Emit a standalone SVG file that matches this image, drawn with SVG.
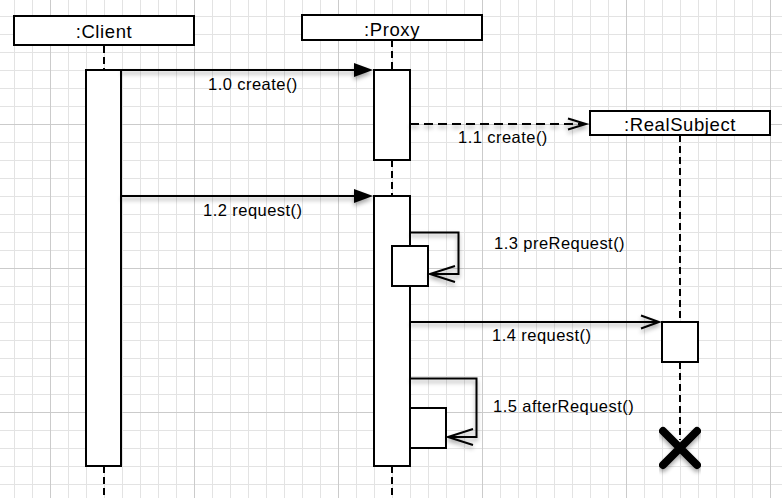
<svg xmlns="http://www.w3.org/2000/svg" width="782" height="498" viewBox="0 0 782 498">
<defs>
<pattern id="minor" width="18" height="18" patternUnits="userSpaceOnUse" x="14" y="16">
<path d="M0.5 0V18M0 0.5H18" stroke="#e3e3e3" stroke-width="1" fill="none"/>
</pattern>
<pattern id="major" width="144" height="144" patternUnits="userSpaceOnUse" x="50" y="124">
<path d="M0.5 0V144M0 0.5H144" stroke="#cbcbcb" stroke-width="1" fill="none"/>
</pattern>
<filter id="sh" x="-10%" y="-50%" width="120%" height="200%">
<feDropShadow dx="0" dy="3" stdDeviation="2" flood-color="#000" flood-opacity="0.35"/>
</filter>
<style>
.box{fill:#fff;stroke:#000;stroke-width:2}
.life{stroke:#000;stroke-width:2;stroke-dasharray:7 4;fill:none}
.msg{stroke:#000;stroke-width:2;fill:none}
.dash{stroke-dasharray:9 5}
.head{fill:none;stroke:#000;stroke-width:2}
.title{font-family:"Liberation Sans",Arial,sans-serif;font-size:18.5px;letter-spacing:0.6px;text-anchor:middle;fill:#000}
.lbl{font-family:"Liberation Sans",Arial,sans-serif;font-size:16.5px;letter-spacing:0.45px;fill:#000}
</style>
</defs>
<rect width="782" height="498" fill="#fff"/>
<rect width="782" height="498" fill="url(#minor)"/>
<rect width="782" height="498" fill="url(#major)"/>

<g id="client">
<line class="life" x1="104" y1="46" x2="104" y2="70"/>
<line class="life" x1="104" y1="466" x2="104" y2="498"/>
<rect class="box" x="14" y="16" width="180" height="29"/>
<text class="title" x="104" y="38">:Client</text>
<rect class="box" x="86" y="70" width="35" height="396"/>
</g>

<g id="proxy">
<line class="life" x1="392" y1="40" x2="392" y2="70"/>
<line class="life" x1="392" y1="160" x2="392" y2="196"/>
<line class="life" x1="392" y1="466" x2="392" y2="498"/>
<rect class="box" x="302" y="15" width="180" height="25"/>
<text class="title" x="392" y="35.5">:Proxy</text>
<rect class="box" x="374" y="70" width="36" height="90"/>
<rect class="box" x="374" y="196" width="36" height="270"/>
<rect class="box" x="392" y="246" width="36" height="40"/>
<rect class="box" x="410" y="408" width="36" height="40"/>
</g>

<g id="realSubject">
<line class="life" x1="680" y1="135" x2="680" y2="322"/>
<line class="life" x1="680" y1="362" x2="680" y2="440"/>
<rect class="box" x="590" y="111" width="180" height="24"/>
<text class="title" x="680" y="130.5">:RealSubject</text>
<rect class="box" x="662" y="322" width="36" height="40"/>
<g filter="url(#sh)">
<path d="M663 431L697 465M697 431L663 465" stroke="#000" stroke-width="8" stroke-linecap="round" fill="none"/>
</g>
</g>

<g id="connectors" filter="url(#sh)">
<line class="msg" x1="121" y1="70" x2="358" y2="70"/>
<polygon points="373,70 354,63 354,77" fill="#000"/>
<line class="msg dash" x1="410" y1="124" x2="584" y2="124"/>
<polyline class="head" points="568,118.5 586,124 568,129.5"/>
<line class="msg" x1="121" y1="196" x2="358" y2="196"/>
<polygon points="373,196 354,189 354,203" fill="#000"/>
<polyline class="msg" points="410,232.5 458.5,232.5 458.5,274 431,274"/>
<polyline class="head" points="455,266 430,274 455,282"/>
<line class="msg" x1="410" y1="322" x2="658" y2="322"/>
<polyline class="head" points="641,315.5 659,322 641,328.5"/>
<polyline class="msg" points="410,378.5 476.5,378.5 476.5,437 449,437"/>
<polyline class="head" points="473,429 448,437 473,445"/>
</g>

<g id="labels">
<text class="lbl" x="208" y="89.5">1.0 create()</text>
<text class="lbl" x="458" y="143">1.1 create()</text>
<text class="lbl" x="203" y="215.5">1.2 request()</text>
<text class="lbl" x="494" y="248.5">1.3 preRequest()</text>
<text class="lbl" x="492" y="341">1.4 request()</text>
<text class="lbl" x="493" y="412">1.5 afterRequest()</text>
</g>
</svg>
